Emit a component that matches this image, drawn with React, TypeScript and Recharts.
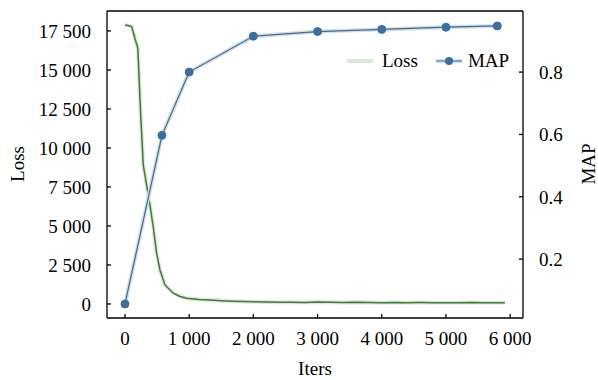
import { LineChart, Line, XAxis, YAxis, Legend, ReferenceLine } from 'recharts'

const FONT = '"Liberation Serif", "DejaVu Serif", serif'

// loss curve
const LOSS_ITERS = [
  0, 50, 104, 150, 200, 245, 285, 330, 377, 440, 492, 545, 623, 753, 860, 960, 1150,
  1325, 1500, 1680, 1850, 2000, 2200, 2400, 2600, 2800, 3000, 3200, 3400,
  3600, 3800, 4000, 4200, 4400, 4600, 4800, 5000, 5200, 5400, 5600, 5800, 5920,
]
const LOSS_VALUES = [
  17880, 17850, 17780, 17100, 16400, 12100, 8900, 7800, 6670, 4950, 3270, 2180, 1220,
  690, 480, 365, 290, 256, 210, 175, 150, 135, 120, 110, 115, 100, 120, 110,
  90, 105, 100, 85, 95, 80, 90, 85, 75, 85, 90, 70, 70, 70,
]

// MAP markers
const MAP_ITERS = [0, 576, 1000, 2000, 3000, 4000, 5000, 5800]
const MAP_VALUES = [0.056, 0.597, 0.8, 0.915, 0.93, 0.937, 0.944, 0.948]

const X_TICKS = [0, 1000, 2000, 3000, 4000, 5000, 6000]
const LOSS_TICKS = [0, 2500, 5000, 7500, 10000, 12500, 15000, 17500]
const MAP_TICKS = [0.2, 0.4, 0.6, 0.8]

const lossData = LOSS_ITERS.map((iter, i) => ({ iter, loss: LOSS_VALUES[i] }))
const mapData = MAP_ITERS.map((iter, i) => ({ iter, map: MAP_VALUES[i] }))

const LOSS_DARK = '#3f7d37'
const LOSS_GLOW = '#dbe9d8'
const MAP_DARK = '#3a6f9f'
const MAP_LINE = '#4d6882'
const MAP_GLOW = '#cddff0'

const X_DOMAIN = [-280, 6200]
const LOSS_DOMAIN = [-900, 18780]
const MAP_DOMAIN = [0.011, 0.996]

const fmt = (v: number) => String(v).replace(/\B(?=(\d{3})+(?!\d))/g, ' ')

// serif tick labels drawn by hand so the font is sure to stick
const makeTick = (format: (v: number) => string, dy: string) => (props: any) => (
  <text
    x={props.x}
    y={props.y}
    dy={dy}
    textAnchor={props.textAnchor}
    fill="#000"
    fontSize={19}
    style={{ fontFamily: FONT }}
  >
    {format(props.payload.value)}
  </text>
)

const yTitle = (text: string, x: number) => () => (
  <text
    x={x}
    y={164}
    transform={`rotate(-90 ${x} 164)`}
    textAnchor="middle"
    dominantBaseline="central"
    fill="#000"
    fontSize={19}
    style={{ fontFamily: FONT }}
  >
    {text}
  </text>
)

const LegendContent = () => (
  <div style={{ display: 'flex', alignItems: 'center', fontFamily: FONT, fontSize: 19, color: '#000', whiteSpace: 'nowrap' }}>
    <svg width={26} height={10}>
      <line x1={0} y1={5} x2={26} y2={5} stroke={LOSS_GLOW} strokeWidth={4} />
    </svg>
    <span style={{ marginLeft: 9, marginRight: 18 }}>Loss</span>
    <svg width={26} height={10}>
      <line x1={0} y1={5} x2={26} y2={5} stroke={MAP_GLOW} strokeWidth={4} />
      <line x1={0} y1={5} x2={26} y2={5} stroke={MAP_DARK} strokeWidth={1} />
      <circle cx={13} cy={5} r={4} fill={MAP_DARK} />
    </svg>
    <span style={{ marginLeft: 6 }}>MAP</span>
  </div>
)

export default function App() {
  return (
    <div style={{ position: 'absolute', left: 0, top: 0, background: '#fff', fontFamily: FONT }}>
      <LineChart
        width={598}
        height={380}
        margin={{ top: 11, right: 0, bottom: 0, left: 0 }}
        style={{ fontFamily: FONT }}
      >
        <XAxis
          xAxisId="x"
          dataKey="iter"
          type="number"
          domain={X_DOMAIN}
          ticks={X_TICKS}
          allowDataOverflow
          height={62}
          tickSize={-4}
          tickMargin={18}
          stroke="#000"
          strokeWidth={1.3}
          tick={makeTick(fmt, '0.71em')}
          label={{ value: 'Iters', position: 'insideBottom', offset: 5, fill: '#000', fontSize: 19, style: { fontFamily: FONT } }}
        />
        <YAxis
          yAxisId="loss"
          type="number"
          domain={LOSS_DOMAIN}
          ticks={LOSS_TICKS}
          allowDataOverflow
          width={107}
          tickSize={-4}
          tickMargin={20}
          stroke="#000"
          strokeWidth={1.3}
          tick={makeTick(fmt, '0.355em')}
          label={yTitle('Loss', 17)}
        />
        <YAxis
          yAxisId="map"
          orientation="right"
          type="number"
          domain={MAP_DOMAIN}
          ticks={MAP_TICKS}
          allowDataOverflow
          width={75}
          tickSize={-4}
          tickMargin={20}
          stroke="#000"
          strokeWidth={1.3}
          tick={makeTick((v) => v.toFixed(1), '0.355em')}
          label={yTitle('MAP', 588)}
        />
        <ReferenceLine xAxisId="x" yAxisId="loss" y={LOSS_DOMAIN[1]} stroke="#000" strokeWidth={1.3} />
        <Legend
          layout="vertical"
          align="center"
          verticalAlign="middle"
          wrapperStyle={{ left: 347, top: 50, width: 'auto', height: 'auto' }}
          content={LegendContent}
        />
        <Line
          xAxisId="x"
          yAxisId="loss"
          data={lossData}
          dataKey="loss"
          name="Loss"
          type="linear"
          stroke={LOSS_GLOW}
          strokeWidth={4}
          dot={false}
          isAnimationActive={false}
        />
        <Line
          xAxisId="x"
          yAxisId="loss"
          data={lossData}
          dataKey="loss"
          name="Loss line"
          legendType="none"
          type="linear"
          stroke={LOSS_DARK}
          strokeWidth={1.5}
          dot={false}
          isAnimationActive={false}
        />
        <Line
          xAxisId="x"
          yAxisId="map"
          data={mapData}
          dataKey="map"
          name="MAP glow"
          legendType="none"
          type="linear"
          stroke={MAP_GLOW}
          strokeWidth={4}
          dot={false}
          isAnimationActive={false}
        />
        <Line
          xAxisId="x"
          yAxisId="map"
          data={mapData}
          dataKey="map"
          name="MAP"
          type="linear"
          stroke={MAP_LINE}
          strokeWidth={1.2}
          dot={{ r: 4, fill: MAP_DARK, stroke: MAP_DARK, strokeWidth: 1 }}
          isAnimationActive={false}
        />
      </LineChart>
    </div>
  )
}
